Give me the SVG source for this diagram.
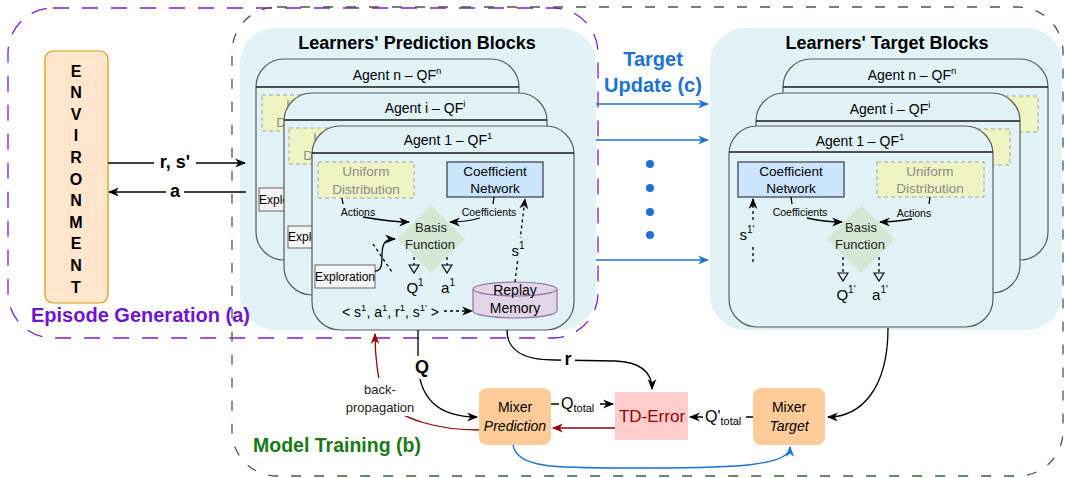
<svg xmlns="http://www.w3.org/2000/svg" width="1066" height="478" viewBox="0 0 1066 478">
<style>
text{font-family:"Liberation Sans",Arial,Helvetica,sans-serif;dominant-baseline:central;text-anchor:middle;fill:#000}
.blk{fill:#e1f3f7;stroke:none}
.card{fill:#e1f3f7;stroke:#5a5a5a;stroke-width:1.2}
.hdr{stroke:#1a1a1a;stroke-width:1.3}
.ttl{font-size:14px}
.uni{fill:#eef5c3;stroke:#a3a3a3;stroke-dasharray:4 3;stroke-width:1}
.unit{font-size:13.5px;fill:#8c8c8c}
.coef{fill:#cce5ff;stroke:#36393d;stroke-width:1.2}
.ct{font-size:13.5px}
.exp{fill:#f5f5f5;stroke:#666;stroke-width:1}
.ext{font-size:12px}
.dia{fill:#d5e8d4}
.dt{font-size:13px;fill:#222}
.small{font-size:10.5px}
.ln{fill:none;stroke:#000;stroke-width:1.3}
.dash{stroke-dasharray:3 3}
.blue{fill:none;stroke:#1b72d8;stroke-width:1.3}
.red{fill:none;stroke:#990000;stroke-width:1.3}
.bold{font-weight:bold}
.mix{fill:#ffcc99}
</style>
<defs>
<marker id="ah" viewBox="0 0 10 10" refX="9" refY="5" markerWidth="11" markerHeight="11" markerUnits="userSpaceOnUse" orient="auto"><path d="M0,1 L10,5 L0,9 L3,5 Z" fill="#000" stroke="none"/></marker>
<marker id="ahb" viewBox="0 0 10 10" refX="9" refY="5" markerWidth="11" markerHeight="11" markerUnits="userSpaceOnUse" orient="auto"><path d="M0,1 L10,5 L0,9 L3,5 Z" fill="#1b72d8" stroke="none"/></marker>
<marker id="ahr" viewBox="0 0 10 10" refX="9" refY="5" markerWidth="11" markerHeight="11" markerUnits="userSpaceOnUse" orient="auto"><path d="M0,1 L10,5 L0,9 L3,5 Z" fill="#990000" stroke="none"/></marker>
<marker id="tri" viewBox="0 0 10 12" refX="9" refY="6" markerWidth="10" markerHeight="12" markerUnits="userSpaceOnUse" orient="auto"><path d="M1,1 L9,6 L1,11 Z" fill="#e1f3f7" stroke="#000" stroke-width="1.2"/></marker>
</defs>

<g id="boundaries">
<rect x="8" y="8" width="590" height="330" rx="45" fill="none" stroke="#7a1cd6" stroke-width="1.3" stroke-dasharray="16 13"/>
<rect x="232" y="7" width="831" height="469" rx="45" fill="none" stroke="#3f5f3f" stroke-width="1.3" stroke-dasharray="10 13"/>
</g>

<g id="environment">
<rect x="45" y="51" width="63" height="252" rx="8" fill="#ffe6cc" stroke="#d79b00" stroke-width="1.2"/>
<g class="bold" font-size="16">
<text x="76" y="71">E</text><text x="76" y="92.6">N</text><text x="76" y="114.2">V</text><text x="76" y="135.8">I</text><text x="76" y="157.4">R</text><text x="76" y="179">O</text><text x="76" y="200.6">N</text><text x="76" y="222.2">M</text><text x="76" y="243.8">E</text><text x="76" y="265.4">N</text><text x="76" y="287">T</text>
</g>
</g>

<g id="prediction-blocks">
<rect x="240" y="28" width="356" height="302" rx="35" class="blk"/>
<text x="417" y="43" class="bold" font-size="18">Learners' Prediction Blocks</text>
</g>

<g id="pred-agent-n">
<rect x="256" y="59" width="263" height="201" rx="28" class="card"/>
<line x1="256" y1="87" x2="519" y2="87" class="hdr"/>
<text x="397" y="75" class="ttl">Agent n – QF<tspan dy="-5" font-size="9.5">n</tspan></text>
<rect x="262" y="95" width="96" height="36" class="uni"/>
<text x="310" y="104" class="unit">Uniform</text><text x="310" y="122" class="unit">Distribution</text>
<rect x="259" y="188" width="60" height="23" class="exp"/>
<text x="289" y="199.5" class="ext">Exploration</text>
</g>

<g id="pred-agent-i">
<rect x="284" y="93" width="263" height="202" rx="28" class="card"/>
<line x1="284" y1="120" x2="547" y2="120" class="hdr"/>
<text x="425" y="108" class="ttl">Agent i – QF<tspan dy="-5" font-size="9.5">i</tspan></text>
<rect x="289" y="128" width="96" height="36" class="uni"/>
<text x="337" y="137" class="unit">Uniform</text><text x="337" y="155" class="unit">Distribution</text>
<rect x="288" y="226" width="60" height="22" class="exp"/>
<text x="318" y="237" class="ext">Exploration</text>
</g>

<g id="pred-agent-1">
<rect x="312" y="126" width="262" height="204" rx="28" class="card"/>
<line x1="312" y1="153" x2="574" y2="153" class="hdr"/>
<text x="448" y="140" class="ttl">Agent 1 – QF<tspan dy="-5" font-size="9.5">1</tspan></text>
</g>

<g id="pred-uniform">
<rect x="318" y="162" width="96" height="36" class="uni"/>
<text x="366" y="171" class="unit">Uniform</text><text x="366" y="189" class="unit">Distribution</text>
</g>
<g id="pred-coefficient">
<rect x="447" y="162" width="96" height="35" class="coef"/>
<text x="495" y="171" class="ct">Coefficient</text><text x="495" y="188.5" class="ct">Network</text>
</g>
<g id="pred-basis">
<polygon points="431,205 465,239 431,273 397,239" class="dia"/>
<text x="431" y="227" class="dt">Basis</text><text x="430" y="244" class="dt">Function</text>
</g>
<g id="pred-exploration">
<rect x="315" y="265" width="60" height="23" class="exp"/>
<text x="345" y="276.5" class="ext">Exploration</text>
</g>
<g id="replay-memory">
<path d="M473,289 A42,7 0 0 1 557,289 L557,311 A42,7 0 0 1 473,311 Z" fill="#e1d5e7" stroke="#9673a6" stroke-width="1.2"/>
<path d="M473,289 A42,7 0 0 0 557,289" fill="none" stroke="#9673a6" stroke-width="1.2"/>
<text x="515" y="290" font-size="14">Replay</text><text x="515" y="308" font-size="14">Memory</text>
</g>

<g id="target-blocks">
<rect x="710" y="28" width="352" height="302" rx="35" class="blk"/>
<text x="887" y="43" class="bold" font-size="18">Learners' Target Blocks</text>
</g>

<g id="tgt-agent-n">
<rect x="783" y="59" width="265" height="201" rx="28" class="card"/>
<line x1="783" y1="87" x2="1048" y2="87" class="hdr"/>
<text x="912" y="75" class="ttl">Agent n – QF<tspan dy="-5" font-size="9.5">n</tspan></text>
<rect x="942" y="96" width="96" height="36" class="uni"/>
</g>
<g id="tgt-agent-i">
<rect x="756" y="93" width="264" height="200" rx="28" class="card"/>
<line x1="756" y1="121" x2="1020" y2="121" class="hdr"/>
<text x="890" y="109" class="ttl">Agent i – QF<tspan dy="-5" font-size="9.5">i</tspan></text>
<rect x="914" y="129" width="96" height="36" class="uni"/>
</g>
<g id="tgt-agent-1">
<rect x="729" y="126" width="264" height="201" rx="28" class="card"/>
<line x1="729" y1="152" x2="993" y2="152" class="hdr"/>
<text x="860" y="141" class="ttl">Agent 1 – QF<tspan dy="-5" font-size="9.5">1</tspan></text>
</g>
<g id="tgt-coefficient">
<rect x="738" y="162" width="106" height="35" class="coef"/>
<text x="791" y="171" class="ct">Coefficient</text><text x="791" y="188.5" class="ct">Network</text>
</g>
<g id="tgt-uniform">
<rect x="877" y="162" width="107" height="35" class="uni"/>
<text x="930" y="171" class="unit">Uniform</text><text x="930" y="188.5" class="unit">Distribution</text>
</g>
<g id="tgt-basis">
<polygon points="861,205 895,239 861,273 827,239" class="dia"/>
<text x="861" y="227" class="dt">Basis</text><text x="860" y="244" class="dt">Function</text>
</g>

<g id="target-update">
<text x="653" y="59" class="bold" font-size="20" style="fill:#1b72d8">Target</text>
<text x="653" y="85" class="bold" font-size="20" style="fill:#1b72d8">Update (c)</text>
<circle cx="650" cy="164" r="4" fill="#1b72d8"/><circle cx="650" cy="188" r="4" fill="#1b72d8"/><circle cx="650" cy="212" r="4" fill="#1b72d8"/><circle cx="650" cy="235" r="4" fill="#1b72d8"/>
</g>

<g id="mixer-prediction">
<rect x="479" y="388" width="72" height="57" rx="8" class="mix"/>
<text x="515" y="407" font-size="14">Mixer</text><text x="515" y="426" font-size="14" font-style="italic">Prediction</text>
</g>
<g id="td-error">
<rect x="615" y="392" width="73" height="48" fill="#ffcccc"/>
<text x="652" y="416" font-size="17" style="fill:#990000">TD-Error</text>
</g>
<g id="mixer-target">
<rect x="753" y="388" width="72" height="57" rx="8" class="mix"/>
<text x="789" y="407" font-size="14">Mixer</text><text x="789" y="426" font-size="14" font-style="italic">Target</text>
</g>

<g id="connectors">
<line x1="108" y1="163" x2="245" y2="163" class="ln" marker-end="url(#ah)"/>
<rect x="154" y="152" width="42" height="22" fill="#fff"/>
<text x="175" y="162" class="bold" font-size="18">r, s'</text>
<line x1="246" y1="192" x2="109" y2="192" class="ln" marker-end="url(#ah)"/>
<rect x="166" y="181" width="18" height="22" fill="#fff"/>
<text x="175" y="191" class="bold" font-size="18">a</text>

<path d="M342,198 L343,204" class="ln" stroke-width="1"/>
<text x="358" y="212" class="small">Actions</text>
<path d="M363,217 C380,220 395,222 409,222" class="ln" marker-end="url(#ah)"/>
<path d="M494,197 L493,204" class="ln" stroke-width="1"/>
<text x="489" y="212" class="small">Coefficients</text>
<path d="M480,218 C470,221 462,222 450,222" class="ln" marker-end="url(#ah)"/>
<path d="M375,271 C381,271 382,266 382,256 C382,243 385,239 395,239" class="ln" marker-end="url(#ah)"/>
<path d="M373,244 L392,272" class="ln dash" stroke-width="1"/>
<path d="M414,257 L414,273" class="ln dash" marker-end="url(#tri)"/>
<path d="M447,257 L447,273" class="ln dash" marker-end="url(#tri)"/>
<text x="415" y="287" font-size="15">Q<tspan dy="-5" font-size="10">1</tspan></text>
<text x="448" y="287" font-size="15">a<tspan dy="-5" font-size="10">1</tspan></text>
<path d="M515,282 L525,199" class="ln dash" marker-end="url(#ah)"/>
<rect x="508" y="238" width="20" height="22" fill="#e1f3f7"/>
<text x="518" y="250" font-size="15">s<tspan dy="-5" font-size="10">1</tspan></text>
<text x="342" y="312" font-size="14" style="text-anchor:start">&lt; s<tspan dy="-5" font-size="9.5">1</tspan><tspan dy="5">, a</tspan><tspan dy="-5" font-size="9.5">1</tspan><tspan dy="5">, r</tspan><tspan dy="-5" font-size="9.5">1</tspan><tspan dy="5">, s</tspan><tspan dy="-5" font-size="9.5">1'</tspan><tspan dy="5"> &gt;</tspan></text>
<path d="M444,311 L472,311" class="ln dash" marker-end="url(#ah)"/>

<path d="M791,197 L792,204" class="ln" stroke-width="1"/>
<text x="800" y="212" class="small">Coefficients</text>
<path d="M807,218 C820,221 830,222 842,222" class="ln" marker-end="url(#ah)"/>
<path d="M930,197 L929,204" class="ln" stroke-width="1"/>
<text x="914" y="213" class="small">Actions</text>
<path d="M912,219 C900,221 892,222 880,222" class="ln" marker-end="url(#ah)"/>
<path d="M843,257 L843,281" class="ln dash" marker-end="url(#tri)"/>
<path d="M879,257 L879,281" class="ln dash" marker-end="url(#tri)"/>
<text x="846" y="294" font-size="15">Q<tspan dy="-5" font-size="10">1'</tspan></text>
<text x="880" y="294" font-size="15">a<tspan dy="-5" font-size="10">1'</tspan></text>
<path d="M753,262 L753,199" class="ln dash" marker-end="url(#ah)"/>
<rect x="737" y="222" width="22" height="22" fill="#e1f3f7"/>
<text x="747" y="234" font-size="15">s<tspan dy="-5" font-size="10">1'</tspan></text>

<line x1="596" y1="104" x2="708" y2="104" class="blue" marker-end="url(#ahb)"/>
<line x1="596" y1="140" x2="708" y2="140" class="blue" marker-end="url(#ahb)"/>
<line x1="596" y1="260" x2="708" y2="260" class="blue" marker-end="url(#ahb)"/>

<path d="M418,330 L418,360 C418,400 440,417 477,417" class="ln" marker-end="url(#ah)"/>
<rect x="411" y="356" width="22" height="23" fill="#fff"/>
<text x="422" y="367" class="bold" font-size="18">Q</text>
<path d="M507,330 C507,352 525,360 555,360 L615,361 C640,362 652,372 652,389" class="ln" marker-end="url(#ah)"/>
<rect x="561" y="350" width="14" height="20" fill="#fff"/>
<text x="568" y="359" class="bold" font-size="18">r</text>
<line x1="551" y1="404" x2="613" y2="404" class="ln" marker-end="url(#ah)"/>
<rect x="559" y="393" width="41" height="22" fill="#fff"/>
<text x="561" y="403" font-size="16" style="text-anchor:start">Q<tspan dy="5" font-size="11">total</tspan></text>
<line x1="753" y1="417" x2="690" y2="417" class="ln" marker-end="url(#ah)"/>
<rect x="703" y="406" width="43" height="22" fill="#fff"/>
<text x="705" y="416" font-size="16" style="text-anchor:start">Q'<tspan dy="5" font-size="11">total</tspan></text>
<line x1="615" y1="428" x2="553" y2="428" class="red" marker-end="url(#ahr)"/>
<path d="M479,430 C440,430 400,420 385,400 C378,385 375,355 375,334" class="red" marker-end="url(#ahr)"/>
<rect x="344" y="378" width="73" height="38" fill="#fff"/>
<text x="380" y="389" font-size="13" style="fill:#222">back-</text>
<text x="380" y="407" font-size="13" style="fill:#222">propagation</text>
<path d="M888,328 C888,390 860,417 828,417" class="ln" marker-end="url(#ah)"/>
<path d="M513,445 C518,470 560,468 650,468 C740,468 790,465 790,447" class="blue" marker-end="url(#ahb)"/>
</g>

<g id="region-labels">
<text x="31" y="315" class="bold" font-size="20" style="text-anchor:start;fill:#7014d0">Episode Generation (a)</text>
<text x="253" y="445" class="bold" font-size="19.5" style="text-anchor:start;fill:#177a17">Model Training (b)</text>
</g>
</svg>
